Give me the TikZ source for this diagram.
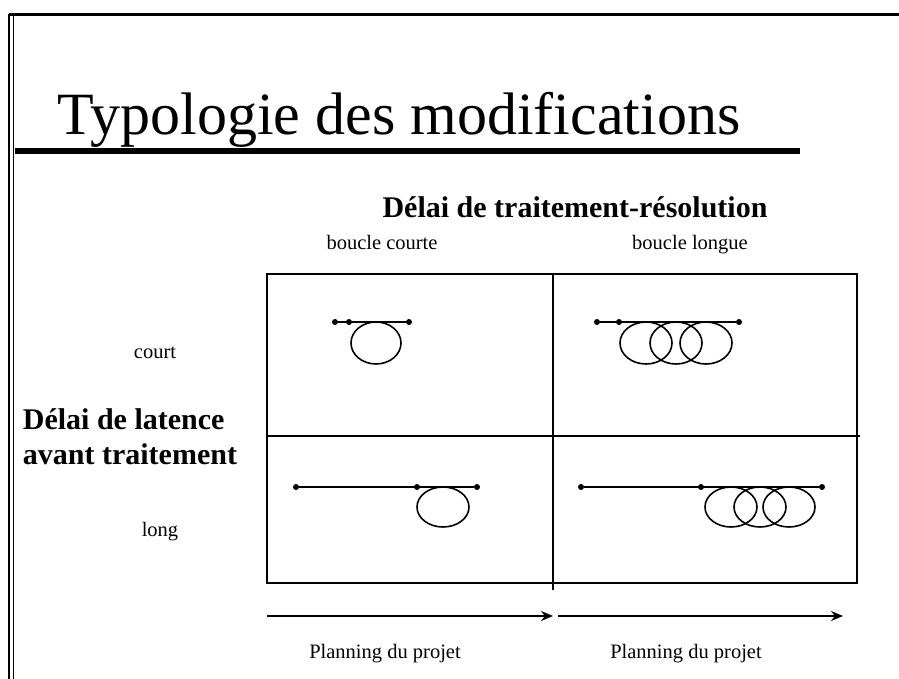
\documentclass[tikz,border=0pt]{standalone}
\usepackage{fontspec}
\setmainfont{Liberation Serif}
\usetikzlibrary{arrows.meta,positioning}
\tikzset{
dot/.style = {circle, fill, minimum size=#1,
              inner sep=0pt, outer sep=0pt},
dot/.default = 6pt,% size of the dot diameter
lbl/.style = {anchor=base, inner sep=0pt, font=\fontsize{20.5}{24}\selectfont},
head/.style = {anchor=base, inner sep=0pt, font=\fontsize{30}{35}\selectfont\bfseries},
loop/.style = {line width=1.6pt},
}

\begin{document}
\begin{tikzpicture}[x=1pt, y=-1pt, line width=1.8pt]
    \useasboundingbox (0,0) rectangle (899,679);

    % frame of the slide
    \draw[line width=3pt] (9,15) -- (899,15);
    \draw[line width=2.5pt] (9,14) -- (9,679);
    \draw[line width=1pt] (13,16) -- (13,679);

    % title
    \node[anchor=base west, inner sep=0pt, font=\fontsize{60}{66}\selectfont] (title) at (57,135) {Typologie des modifications};
    \draw[line width=6pt] (15,151) -- (800,151);

    % headings
    \node[head] (resol) at (575,217) {Délai de traitement-résolution};
    \node[lbl] (courte) at (382,249) {boucle courte};
    \node[lbl] (longue) at (690,249) {boucle longue};
    \node[head, anchor=base west, align=left] (latence) at (22,464) {Délai de latence\\avant traitement};
    \node[lbl] (court) at (155,358) {court};
    \node[lbl] (long) at (160,536) {long};

    % grid
    \draw (267,274) rectangle (857,583);
    \draw (553,274) -- (553,590);
    \draw (267,436) -- (860,436);

    % loops
    \node[dot] (a1) at (335,322) {};
    \node[dot] (a2) at (349,322) {};
    \node[dot] (a3) at (409,322) {};
    \draw[loop] (a1) -- (a3);
    \draw[loop] (376,343) ellipse (25 and 21);

    \node[dot] (b1) at (597,322) {};
    \node[dot] (b2) at (619,322) {};
    \node[dot] (b3) at (739,322) {};
    \draw[loop] (b1) -- (b3);
    \foreach \x in {646,676,706}
        \draw[loop] (\x,343) ellipse (26 and 21);

    \node[dot] (c1) at (296,487) {};
    \node[dot] (c2) at (417,487) {};
    \node[dot] (c3) at (477,487) {};
    \draw[loop] (c1) -- (c3);
    \draw[loop] (443,507) ellipse (26 and 20);

    \node[dot] (d1) at (581,487) {};
    \node[dot] (d2) at (701,487) {};
    \node[dot] (d3) at (822,487) {};
    \draw[loop] (d1) -- (d3);
    \foreach \x in {731,760,789}
        \draw[loop] (\x,507) ellipse (26 and 20);

    % time axis
    \coordinate (t0) at (267,616);
    \coordinate (t1) at (553,616);
    \coordinate (t2) at (558,616);
    \coordinate (t3) at (843,616);
    \draw[-{Stealth[length=12pt,width=10pt]}] (t0) -- (t1);
    \draw[-{Stealth[length=12pt,width=10pt]}] (t2) -- (t3);
    \node[lbl] (plan1) at (385,658) {Planning du projet};
    \node[lbl] (plan2) at (686,658) {Planning du projet};
\end{tikzpicture}
\end{document}
